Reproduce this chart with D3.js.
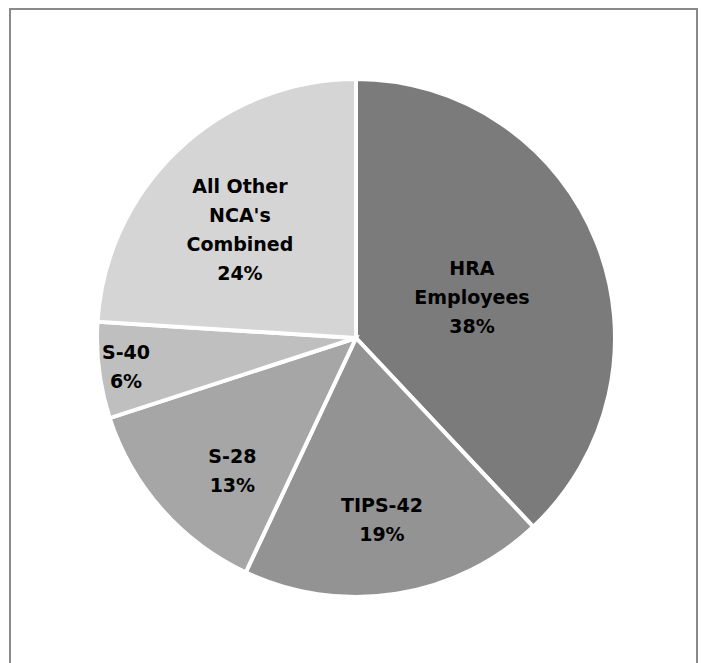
<!DOCTYPE html>
<html>
<head>
<meta charset="utf-8">
<script src="https://cdn.jsdelivr.net/npm/d3@7/dist/d3.min.js"></script>
<style>
  html, body { margin: 0; padding: 0; background: #ffffff; }
  svg { display: block; }
</style>
</head>
<body>
<svg id="chart" width="704" height="663"></svg>
<script>
// Share of NCA records by group, clockwise from 12 o'clock
const categories = ["HRA\nEmployees", "TIPS-42", "S-28", "S-40", "All Other\nNCA's\nCombined"];
const percents = [38, 19, 13, 6, 24];
const sliceColors = ["#7b7b7b", "#939393", "#a6a6a6", "#bfbfbf", "#d5d5d5"];

// Label placement: distance from centre (fraction of radius) and a small turn off the slice's mid-angle (degrees)
const labelDistance = [0.475, 0.71, 0.70, 0.895, 0.614];
const labelTurn = [2.1, 0.9, -5.6, 0, -3.7];

const svg = d3.select("#chart");

// outer frame
svg.append("rect")
  .attr("x", 10).attr("y", 9)
  .attr("width", 687).attr("height", 700)
  .attr("fill", "none")
  .attr("stroke", "#8a8a8a")
  .attr("stroke-width", 2);

const cx = 356, cy = 338, R = 259;

const data = categories.map((c, i) => ({
  name: c, value: percents[i], color: sliceColors[i],
  dist: labelDistance[i], turn: labelTurn[i]
}));

const pie = d3.pie().value(d => d.value).sort(null);
const arc = d3.arc().innerRadius(0).outerRadius(R);

const g = svg.append("g").attr("transform", `translate(${cx},${cy})`);
const arcs = pie(data);

g.selectAll("path.slice")
  .data(arcs)
  .join("path")
  .attr("class", "slice")
  .attr("d", arc)
  .attr("fill", d => d.data.color)
  .attr("stroke", "#ffffff")
  .attr("stroke-width", 4)
  .attr("stroke-linejoin", "miter");

const lineH = 29;
g.selectAll("text.lbl")
  .data(arcs)
  .join("text")
  .attr("class", "lbl")
  .attr("text-anchor", "middle")
  .attr("font-family", "'DejaVu Sans', sans-serif")
  .attr("font-weight", "bold")
  .attr("font-size", 19)
  .attr("fill", "#000000")
  .each(function(d) {
    const mid = (d.startAngle + d.endAngle) / 2 + d.data.turn * Math.PI / 180;
    const r = R * d.data.dist;
    const x = Math.sin(mid) * r;
    const y = -Math.cos(mid) * r;
    const lines = d.data.name.split("\n").concat([d.data.value + "%"]);
    const top = y - (lines.length - 1) * lineH / 2;
    const t = d3.select(this);
    lines.forEach((ln, i) => {
      t.append("tspan")
        .attr("x", x)
        .attr("y", top + i * lineH)
        .attr("dy", "0.35em")
        .text(ln);
    });
  });
</script>
</body>
</html>
